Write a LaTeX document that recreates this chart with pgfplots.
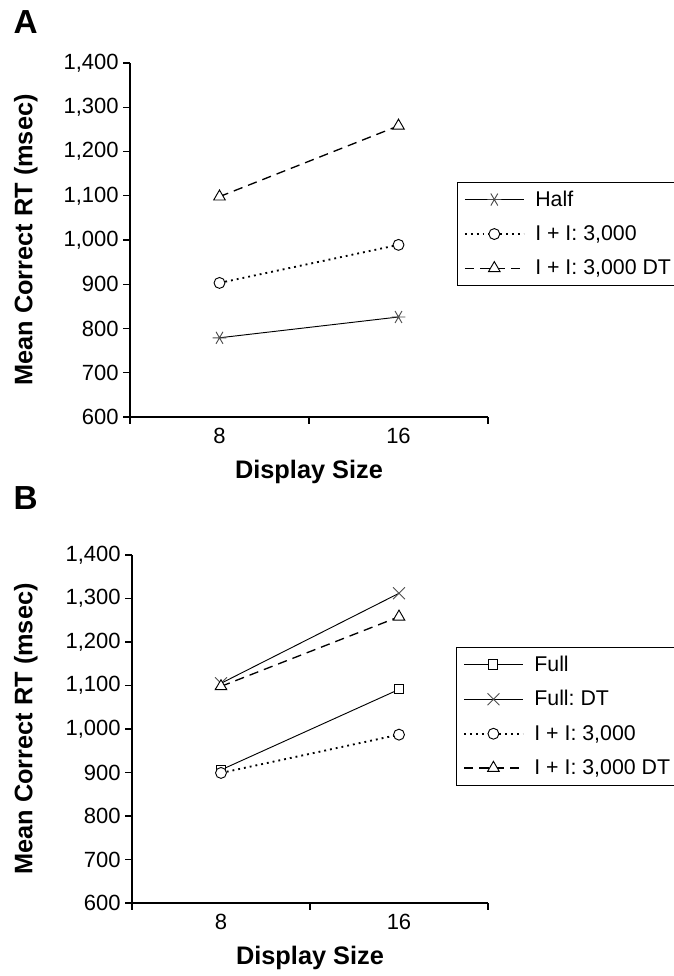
\documentclass[border=0pt]{standalone}
\usepackage{fontspec}
\setmainfont{Liberation Sans}
\usepackage{pgfplots}
\pgfplotsset{compat=1.18}

\newcommand{\lab}{\fontsize{16.5}{19}\selectfont}
\newcommand{\leg}{\fontsize{16}{19}\selectfont}
\newcommand{\axl}{\fontsize{19}{22}\selectfont\bfseries}

\pgfplotsset{
  rtpanel/.style={
    scale only axis,
    axis lines=left,
    axis line style={-, line width=0.8pt},
    xmin=0.5, xmax=2.5, ymin=600, ymax=1400,
    ytick={600,700,...,1400},
    xtick={0.5,1.5,2.5}, xticklabels={},
    extra x ticks={1,2}, extra x tick labels={8,16},
    extra x tick style={major tick length=0pt, xticklabel style={yshift=-5pt}},
    tick align=outside, major tick length=5pt,
    tick style={line width=0.8pt, black},
    ticklabel style={font=\lab},
    yticklabel style={/pgf/number format/.cd, 1000 sep={,}, assume math mode=true},
    xticklabel style={/pgf/number format/assume math mode=true},
    label style={font=\axl},
    xlabel={Display Size},
    ylabel={Mean Correct RT (msec)},
    legend cell align=left,
    legend style={draw=black, line width=0.8pt, font=\leg, anchor=north west,
      row sep=9pt, inner xsep=5pt, inner ysep=4.5pt,
      /tikz/every odd column/.append style={column sep=6pt}},
    legend image code/.code={\draw[mark repeat=2, mark phase=2, #1]
      plot coordinates {(0pt,0pt) (22pt,0pt) (44pt,0pt)};},
  },
  half/.style={black, line width=0.7pt, mark=asterisk, mark size=5.2pt, mark options={solid, rotate=90, gray!60!black}},
  full/.style={black, line width=0.7pt, mark=square*, mark size=3.4pt, mark options={solid, fill=white}},
  fulldt/.style={black, line width=0.7pt, mark=x, mark size=6.3pt, mark options={solid, gray!60!black}},
  ii/.style={black, line width=1.4pt, dash pattern=on 1.4pt off 3pt, mark=*, mark size=4.1pt, mark options={solid, fill=white, line width=0.7pt}},
  iidt/.style={black, line width=1pt, dash pattern=on 7pt off 4.5pt, mark=triangle*, mark size=5pt, mark options={solid, fill=white, line width=0.7pt}},
}

\begin{document}
\frenchspacing
\begin{tikzpicture}
\useasboundingbox (0,0) rectangle (505.5pt,732pt);

\node[anchor=north west, inner sep=0pt, font=\fontsize{25}{30}\selectfont\bfseries] at (10pt,724pt) {A};
\node[anchor=north west, inner sep=0pt, font=\fontsize{25}{30}\selectfont\bfseries] at (10pt,367pt) {B};

% panel A
\begin{axis}[rtpanel,
  at={(97.5pt,419.25pt)}, anchor=south west,
  width=268.5pt, height=265.5pt,
  ylabel style={at={(axis description cs:-0.257,0.5)}, anchor=south, inner sep=0pt},
  xlabel style={at={(axis description cs:0.5,-0.122)}, anchor=north, inner sep=0pt},
  legend style={at={(axis description cs:0.913,0.665)}},
]
  \addplot[half] coordinates {(1,779) (2,826)};
  \addlegendentry{Half}
  \addplot[ii] coordinates {(1,903) (2,989)};
  \addlegendentry{I + I: 3,000}
  \addplot[iidt] coordinates {(1,1098) (2,1258)};
  \addlegendentry{I + I: 3,000 DT}
\end{axis}

% panel B
\begin{axis}[rtpanel,
  at={(99pt,54.75pt)}, anchor=south west,
  width=267pt, height=261pt,
  ylabel style={at={(axis description cs:-0.264,0.5)}, anchor=south, inner sep=0pt},
  xlabel style={at={(axis description cs:0.5,-0.124)}, anchor=north, inner sep=0pt},
  legend style={at={(axis description cs:0.910,0.737)}},
]
  \addplot[full] coordinates {(1,906) (2,1091)};
  \addlegendentry{Full}
  \addplot[fulldt] coordinates {(1,1105) (2,1312)};
  \addlegendentry{Full: DT}
  \addplot[ii] coordinates {(1,899) (2,987)};
  \addlegendentry{I + I: 3,000}
  \addplot[iidt] coordinates {(1,1098) (2,1258)};
  \addlegendentry{I + I: 3,000 DT}
\end{axis}
\end{tikzpicture}
\end{document}
